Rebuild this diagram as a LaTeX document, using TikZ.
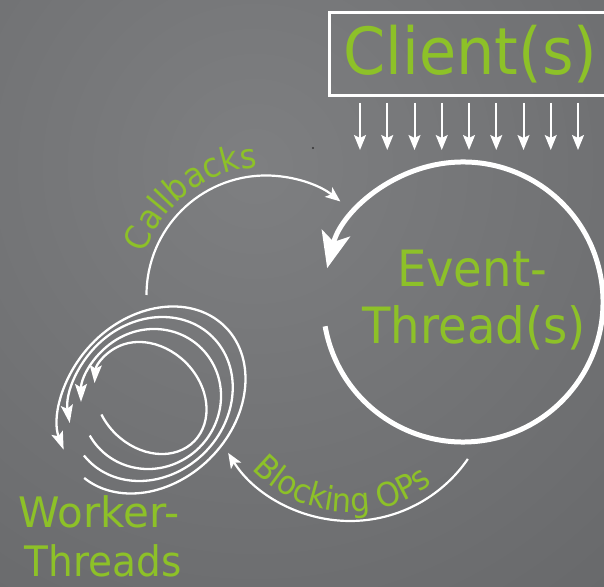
\documentclass[tikz,border=0pt]{standalone}
\usepackage{fontspec}
\newfontfamily\dvc[FakeStretch=0.93]{DejaVu Sans}
\newfontfamily\dvs{DejaVu Sans}
\usetikzlibrary{arrows.meta,decorations.text}
\definecolor{lgreen}{RGB}{141,193,40}
\definecolor{bgin}{RGB}{126,127,129}
\definecolor{bgout}{RGB}{86,87,89}
\begin{document}
\begin{tikzpicture}[x=1pt,y=1pt,
  lbl/.style={text=lgreen, inner sep=0pt, anchor=base},
  smallarrow/.style={draw=white, line width=2.2pt, -{Stealth[length=15pt,width=12pt,inset=3.5pt]}},
  looparrow/.style={draw=white, line width=2.3pt, -{Stealth[length=18pt,width=12pt,inset=3.5pt]}},
  bigarrow/.style={draw=white, line width=5pt, -{Stealth[length=36pt,width=29pt,inset=9pt]}},
  downarrow/.style={draw=white, line width=2pt, -{Stealth[length=15pt,width=12pt,inset=3pt]}}
]
\useasboundingbox (0,0) rectangle (604,586);
\begin{scope}
  \clip (0,0) rectangle (604,586);
  \shade[inner color=bgin, outer color=bgout] (255,420) circle (1000);
\end{scope}

% Client box
\node[draw=white, line width=3pt, minimum width=283pt, minimum height=83pt, inner sep=0pt,
      text=lgreen, font=\dvc\fontsize{65}{65}\selectfont] (client) at (470.5,531.5) {Client(s)};

% down arrows
\foreach \i in {0,...,8}{
  \coordinate (da\i) at ({360+27.25*\i},483);
  \coordinate (db\i) at ({360+27.25*\i},436);
  \draw[downarrow] (da\i) -- (db\i);
}

% Event thread circle
\coordinate (ec) at (463,284);
\draw[bigarrow] ([shift={(190:140)}]ec) arc[start angle=190, end angle=526, radius=140];
\node[lbl, font=\dvc\fontsize{50}{50}\selectfont] (ev1) at (472,299.3) {Event-};
\node[lbl, font=\dvc\fontsize{50}{50}\selectfont] (ev2) at (474,242.7) {Thread(s)};

% Callbacks
\coordinate (cb) at (266,291);
\draw[smallarrow] ([shift={(180:119.5)}]cb) arc[start angle=180, end angle=51.5, radius=119.5];
\path[decorate, decoration={text along path, text color=lgreen,
   text={|\dvc\fontsize{34}{34}\selectfont|Callbacks}}]
   ([shift={(161:128)}]cb) arc[start angle=161, end angle=75, radius=128];

% Blocking OPs
\coordinate (bo) at (350,208);
\draw[smallarrow] ([shift={(-34.5:143)}]bo) arc[start angle=-34.5, end angle=-148.4, radius=143];
\path[decorate, decoration={text along path, text color=lgreen,
   text={|\dvc\fontsize{33}{33}\selectfont|Blocking OPs}}]
   ([shift={(-137:134)}]bo) arc[start angle=-137, end angle=-25, radius=134];

% Worker loops (ellipses, axes along the diagonals)
\begin{scope}[shift={(150.5,188)}, rotate=-45]
  \draw[looparrow] (248:61.5 and 50) arc[start angle=248, end angle=575.5, x radius=61.5, y radius=50];
\end{scope}
\begin{scope}[shift={(151,187)}, rotate=-45]
  \draw[looparrow] (255.2:68.5 and 71.5) arc[start angle=255.2, end angle=586.2, x radius=68.5, y radius=71.5];
\end{scope}
\begin{scope}[shift={(150.75,187)}, rotate=-45]
  \draw[looparrow] (264.5:76 and 87.6) arc[start angle=264.5, end angle=598, x radius=76, y radius=87.6];
\end{scope}
\begin{scope}[shift={(152,186)}, rotate=-45]
  \draw[looparrow] (275:82.3 and 103.5) arc[start angle=275, end angle=610.6, x radius=82.3, y radius=103.5];
\end{scope}

\node[lbl, font=\dvs\fontsize{42}{42}\selectfont] (wk1) at (99,59) {Worker-};
\node[lbl, font=\dvc\fontsize{42}{42}\selectfont] (wk2) at (103,10) {Threads};

\fill[black!80] (313,438) circle (1.2);
\end{tikzpicture}
\end{document}
